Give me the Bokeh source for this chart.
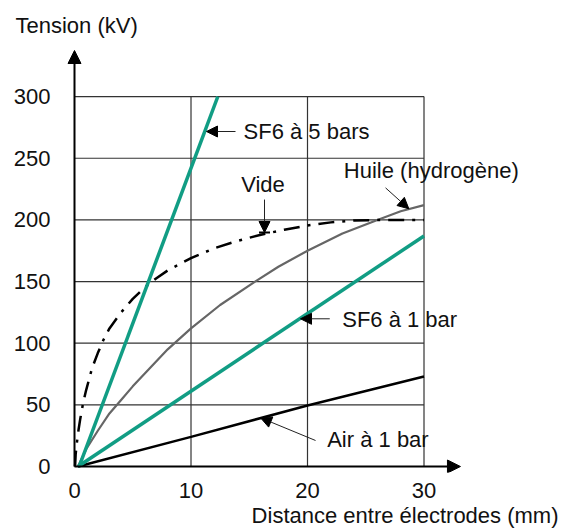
from bokeh.plotting import figure
from bokeh.models import Arrow, NormalHead, TeeHead, Label, FixedTicker, Range1d, Title
from bokeh.embed import file_html
from bokeh.resources import INLINE

# ---- data ----
x_ticks = [0, 10, 20, 30]
y_ticks = [0, 50, 100, 150, 200, 250, 300]

sf6_5bar_mm = [0.4, 12.3]
sf6_5bar_kv = [0, 300]

sf6_1bar_mm = [0.3, 30]
sf6_1bar_kv = [0, 187]

air_mm = [0.3, 10, 20, 30]
air_kv = [0, 24, 49.5, 73]

huile_mm = [0.3, 1, 2, 3, 4, 5, 6.5, 8, 10, 12.5, 15.5, 17.5, 20, 23, 26, 28, 30]
huile_kv = [0, 14, 29, 43, 54, 65, 80, 95, 112, 131, 150, 162, 175, 189, 200, 207, 212]

vide_mm = [0.05, 0.1, 0.2, 0.35, 0.5, 0.75, 1, 1.5, 2, 2.5, 3, 4, 5, 6, 7, 8, 10, 12, 14, 16, 18, 20, 22, 24, 26, 30]
vide_kv = [0, 10, 19, 30, 39, 52, 62, 79.5, 92, 103, 112, 125, 136, 145, 152.5, 159, 169, 177, 183, 188, 192, 195.5, 198, 199.5, 200, 200]

labels = ["SF6 à 5 bars", "Vide", "Huile (hydrogène)", "SF6 à 1 bar", "Air à 1 bar"]
label_x = [14.51, 16.18, 23.12, 22.98, 21.69]
label_y = [271.7, 228.7, 240.1, 119.2, 21.9]
label_align = ["left", "center", "left", "left", "left"]
arrow_x0 = [13.82, 16.31, 26.70, 21.91, 20.69]
arrow_y0 = [271.7, 216.5, 226.0, 119.8, 21.1]
arrow_x1 = [11.33, 16.31, 28.70, 19.40, 15.97]
arrow_y1 = [271.7, 189.8, 209.0, 119.8, 39.5]

FONT = "Liberation Sans"
FS = "22px"
TEAL = "#119d84"
INK = "#111111"

p = figure(width=564, height=529,
           x_range=Range1d(-0.687, 42.06), y_range=Range1d(-4.866, 344.7),
           output_backend="svg", toolbar_location=None,
           min_border_left=66, min_border_right=0,
           min_border_top=41, min_border_bottom=57)
p.outline_line_color = None
p.xgrid.visible = False
p.ygrid.visible = False
p.background_fill_color = "white"
p.border_fill_color = "white"

p.title.text = "Tension (kV)"
p.title.align = "left"
p.title.offset = -51
p.title.standoff = 8
p.title.text_font = FONT
p.title.text_font_size = FS
p.title.text_font_style = "normal"
p.title.text_color = INK

for ax, ticks in ((p.xaxis[0], x_ticks), (p.yaxis[0], y_ticks)):
    ax.ticker = FixedTicker(ticks=ticks)
    ax.axis_line_color = None
    ax.major_tick_line_color = None
    ax.minor_tick_line_color = None
    ax.major_tick_out = 0
    ax.major_tick_in = 0
    ax.major_label_text_font = FONT
    ax.major_label_text_font_size = FS
    ax.major_label_text_color = INK
p.xaxis[0].major_label_standoff = 10
p.yaxis[0].major_label_standoff = 16

p.add_layout(Title(text="Distance entre électrodes (mm)", align="right", offset=6, standoff=0,
                   text_font=FONT, text_font_size=FS, text_font_style="normal",
                   text_color=INK), "below")

# grid box (from tick values)
gx = x_ticks[1:]
p.segment(x0=gx, y0=[y_ticks[0]] * len(gx), x1=gx, y1=[y_ticks[-1]] * len(gx),
          line_color="#333333", line_width=1.2)
gy = y_ticks[1:]
p.segment(x0=[x_ticks[0]] * len(gy), y0=gy, x1=[x_ticks[-1]] * len(gy), y1=gy,
          line_color="#333333", line_width=1.2)

# curves
p.line(air_mm, air_kv, line_color="black", line_width=2.5)
p.line(huile_mm, huile_kv, line_color="#666666", line_width=2.2)
p.line(vide_mm, vide_kv, line_color="black", line_width=2.5, line_dash="16 8 3 8")
p.line(sf6_1bar_mm, sf6_1bar_kv, line_color=TEAL, line_width=3.5)
p.line(sf6_5bar_mm, sf6_5bar_kv, line_color=TEAL, line_width=3.5)

# annotations
for t, lx, ly, al in zip(labels, label_x, label_y, label_align):
    p.add_layout(Label(x=lx, y=ly, text=t, text_font=FONT, text_font_size=FS,
                       text_align=al, text_baseline="middle", text_color=INK))
for xs, ys, xe, ye in zip(arrow_x0, arrow_y0, arrow_x1, arrow_y1):
    p.add_layout(Arrow(x_start=xs, y_start=ys, x_end=xe, y_end=ye,
                       line_color="#222222", line_width=1,
                       end=NormalHead(size=11, fill_color="black", line_color="black")))
# tee bar at the tip of the "Vide" pointer
p.add_layout(Arrow(x_start=arrow_x0[1], y_start=arrow_y0[1], x_end=arrow_x1[1], y_end=arrow_y1[1],
                   line_alpha=0, end=TeeHead(size=11, line_color="black", line_width=2)))

# axis arrows
p.add_layout(Arrow(x_start=0, y_start=0, x_end=33.13, y_end=0, line_color="black", line_width=2,
                   end=NormalHead(size=13, fill_color="black", line_color="black")))
p.add_layout(Arrow(x_start=0, y_start=0, x_end=0, y_end=337.4, line_color="black", line_width=2,
                   end=NormalHead(size=13, fill_color="black", line_color="black")))

open("out.html", "w").write(file_html(p, INLINE))
